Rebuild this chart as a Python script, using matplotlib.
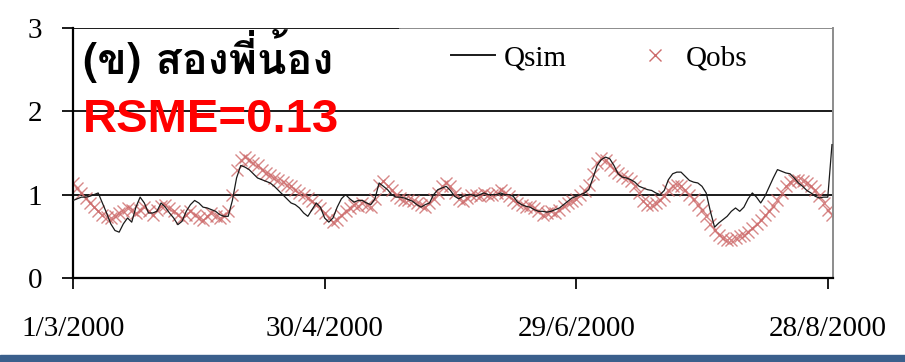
import numpy as np
import matplotlib
matplotlib.use("Agg")
import matplotlib.pyplot as plt
from matplotlib import font_manager
from matplotlib.ft2font import FT2Font
from matplotlib.lines import Line2D

# Daily discharge, 1/3/2000 .. 29/8/2000
q_sim = [0.93, 0.95, 0.97, 0.97, 0.98, 1.00, 1.02, 0.90, 0.78, 0.65,
         0.57, 0.55, 0.65, 0.72, 0.67, 0.85, 0.97, 0.90, 0.78, 0.78,
         0.80, 0.90, 0.85, 0.78, 0.72, 0.64, 0.68, 0.80, 0.88, 0.93,
         0.90, 0.85, 0.84, 0.82, 0.80, 0.76, 0.74, 0.74, 0.93, 1.20,
         1.35, 1.33, 1.30, 1.25, 1.20, 1.18, 1.16, 1.14, 1.10, 1.05,
         1.00, 0.95, 0.90, 0.88, 0.84, 0.78, 0.74, 0.82, 0.90, 0.85,
         0.72, 0.67, 0.72, 0.85, 0.95, 1.00, 0.95, 0.91, 0.93, 0.93,
         0.90, 0.88, 0.95, 1.14, 1.10, 1.06, 1.00, 0.97, 0.97, 0.96,
         0.94, 0.92, 0.88, 0.85, 0.88, 0.90, 1.00, 1.06, 1.08, 1.10,
         1.05, 0.98, 0.95, 0.98, 1.00, 1.00, 0.98, 1.00, 1.02, 1.00,
         1.00, 1.00, 1.02, 1.00, 1.00, 0.98, 0.91, 0.88, 0.86, 0.85,
         0.82, 0.80, 0.80, 0.79, 0.80, 0.82, 0.84, 0.88, 0.92, 0.96,
         0.98, 1.00, 1.02, 1.06, 1.20, 1.35, 1.42, 1.45, 1.43, 1.35,
         1.25, 1.21, 1.20, 1.18, 1.15, 1.10, 1.08, 1.06, 1.05, 1.02,
         1.00, 1.05, 1.18, 1.25, 1.27, 1.27, 1.22, 1.17, 1.15, 1.14,
         1.10, 1.02, 0.80, 0.61, 0.66, 0.70, 0.74, 0.80, 0.84, 0.80,
         0.85, 0.95, 1.02, 0.97, 0.90, 0.98, 1.09, 1.20, 1.30, 1.28,
         1.26, 1.25, 1.20, 1.14, 1.10, 1.05, 1.02, 0.98, 0.96, 0.97,
         0.97, 1.60]

q_obs = [1.14, 1.08, 1.02, 0.96, 0.90, 0.85, 0.80, 0.76, 0.73, 0.72,
         0.74, 0.78, 0.80, 0.84, 0.82, 0.78, 0.82, 0.85, 0.80, 0.76,
         0.82, 0.86, 0.88, 0.84, 0.80, 0.76, 0.72, 0.76, 0.80, 0.76,
         0.72, 0.70, 0.74, 0.78, 0.74, 0.72, 0.74, 0.80, 1.00, 1.30,
         1.42, 1.45, 1.42, 1.38, 1.35, 1.30, 1.26, 1.24, 1.20, 1.18,
         1.15, 1.12, 1.10, 1.06, 1.02, 1.00, 0.96, 0.92, 0.88, 0.84,
         0.78, 0.72, 0.67, 0.70, 0.76, 0.80, 0.84, 0.88, 0.86, 0.90,
         0.88, 0.85, 0.95, 1.12, 1.16, 1.10, 1.05, 1.00, 0.96, 0.93,
         0.94, 0.92, 0.90, 0.88, 0.85, 0.90, 0.95, 1.02, 1.10, 1.14,
         1.10, 1.02, 0.95, 0.92, 0.96, 1.00, 1.00, 0.98, 1.02, 1.00,
         1.00, 1.02, 1.05, 1.02, 0.98, 0.94, 0.90, 0.88, 0.85, 0.86,
         0.84, 0.80, 0.76, 0.78, 0.80, 0.78, 0.82, 0.86, 0.90, 0.92,
         0.95, 1.00, 1.04, 1.12, 1.25, 1.38, 1.44, 1.42, 1.36, 1.30,
         1.26, 1.22, 1.20, 1.16, 1.10, 1.02, 0.92, 0.88, 0.88, 0.90,
         0.94, 0.98, 1.05, 1.10, 1.12, 1.10, 1.05, 1.00, 0.95, 0.88,
         0.82, 0.74, 0.65, 0.58, 0.52, 0.48, 0.46, 0.46, 0.48, 0.50,
         0.52, 0.55, 0.60, 0.65, 0.70, 0.75, 0.80, 0.86, 0.94, 1.02,
         1.10, 1.15, 1.18, 1.18, 1.16, 1.14, 1.10, 1.05, 0.98, 0.90,
         0.82, 0.75]

tick_days = [0, 60, 120, 180]
tick_labels = ["1/3/2000", "30/4/2000", "29/6/2000", "28/8/2000"]
title = "(ข) สองพี่น้อง"
score = "RSME=0.13"


def thai_font():
    # first installed font that actually has Thai glyphs
    for f in font_manager.fontManager.ttflist:
        try:
            if 0x0E2A in FT2Font(f.fname).get_charmap():
                return f.name
        except Exception:
            pass
    return "DejaVu Sans"


days = np.arange(len(q_sim))
serif = ["Liberation Serif", "DejaVu Serif"]
obs_col = "#cd6b6b"

fig = plt.figure(figsize=(9.05, 3.62), dpi=100)
ax = fig.add_axes([0.0807, 0.232, 0.840, 0.691])

# gridlines (the top one is partly hidden by the legend box)
for v in [1, 2]:
    ax.axhline(v, color="#1a1a1a", lw=1.4, zorder=1)
ax.axhline(3, xmax=0.43, color="#1a1a1a", lw=1.4, zorder=1)
ax.axhline(3, xmin=0.43, color="#8c8c8c", lw=1.4, zorder=1)

ax.plot(days, q_sim, color="#1a1a1a", lw=0.9, zorder=3)
ax.plot(days, q_obs, ls="none", marker="x", ms=9, mew=1.0,
        color=obs_col, alpha=0.8, zorder=2)

ax.set_xlim(0, 181.3)
ax.set_ylim(0, 3)
ax.set_yticks([0, 1, 2, 3])
ax.set_xticks(tick_days)
ax.set_xticklabels(tick_labels)
ax.tick_params(axis="both", direction="out", length=8, width=1.4,
               color="#1a1a1a", labelsize=21)
ax.tick_params(axis="y", pad=14)
ax.tick_params(axis="x", pad=19)
for lab in ax.get_xticklabels() + ax.get_yticklabels():
    lab.set_family(serif)

ax.spines["top"].set_visible(False)
ax.spines["right"].set_color("#8c8c8c")
ax.spines["right"].set_linewidth(1.4)
ax.spines["left"].set_linewidth(1.6)
ax.spines["bottom"].set_linewidth(1.6)

handles = [Line2D([], [], color="#1a1a1a", lw=1.4),
           Line2D([], [], ls="none", marker="x", ms=9, mew=1.0,
                  color=obs_col)]
ax.legend(handles, ["Qsim", "Qobs"], ncol=2, frameon=False,
          loc="center left", bbox_to_anchor=(0.478, 0.88),
          prop={"family": serif, "size": 21}, handlelength=1.5,
          handletextpad=0.3, columnspacing=2.3, borderpad=0)

trans = ax.get_yaxis_transform()
ax.text(0.013, 2.66, title, fontsize=31, fontweight="bold", va="center",
        ha="left", family=[thai_font(), "DejaVu Sans"], transform=trans,
        zorder=5)
ax.text(0.013, 1.89, score, fontsize=34, fontweight="bold", color="#ff0000",
        va="center", ha="left", family=["Liberation Sans", "DejaVu Sans"],
        transform=trans, zorder=5)

# slide footer band
fig.patches.append(plt.Rectangle((0, 0), 1, 0.019, transform=fig.transFigure,
                                 color="#3a5f8c", zorder=0))

fig.savefig("out.png", dpi=100)
